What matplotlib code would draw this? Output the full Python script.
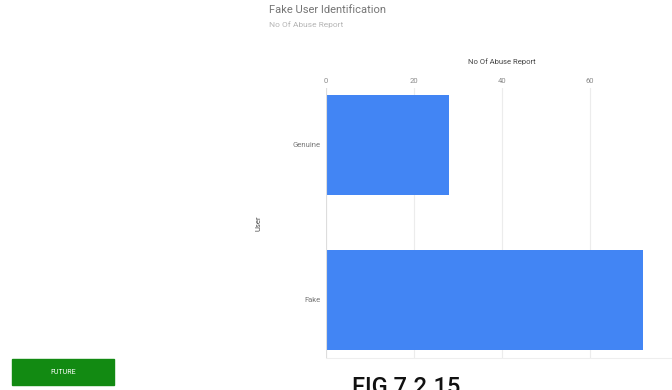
import matplotlib.pyplot as plt
from matplotlib.patches import Rectangle

# chart data
users = ["Genuine", "Fake"]
abuse_reports = [28, 72]
x_ticks = [0, 20, 40, 60, 80]

plt.rcParams['font.family'] = ['Roboto', 'DejaVu Sans']

fig = plt.figure(figsize=(6.72, 3.90), dpi=100)
ax = fig.add_axes([0.485, 0.082, 0.524, 0.692])

ypos = list(range(len(users)))
ax.barh(ypos, abuse_reports, height=0.645, color="#4285F4", zorder=3)

ax.set_xlim(0, 80)
ax.set_ylim(1.377, -0.365)
ax.set_xticks(x_ticks)
ax.set_xticklabels([str(t) for t in x_ticks])
ax.set_yticks(ypos)
ax.set_yticklabels(users)
ax.xaxis.tick_top()
ax.xaxis.set_label_position("top")
ax.tick_params(axis="x", length=0, pad=3, labelsize=5.5, colors="#8a8a8a")
ax.tick_params(axis="y", length=0, pad=4, labelsize=5.5, colors="#777777")
ax.grid(axis="x", color="#ececec", linewidth=0.8, zorder=0)
ax.axvline(0, color="#dddddd", linewidth=0.8, zorder=4)
for s in ax.spines.values():
    s.set_visible(False)
ax.spines["bottom"].set_visible(True)
ax.spines["bottom"].set_color("#eeeeee")

ax.set_xlabel("No Of Abuse Report", fontsize=5.5, color="#444444", labelpad=10)
ax.set_ylabel("User", fontsize=5.5, color="#444444", labelpad=22)

# titles
fig.text(269 / 672, 1 - 10 / 390, "Fake User Identification", fontsize=8,
         color="#757575", ha="left", va="center")
fig.text(269 / 672, 1 - 25 / 390, "No Of Abuse Report", fontsize=6,
         color="#b5b5b5", ha="left", va="center")

# green button
fig.patches.append(Rectangle((12 / 672, 1 - 385 / 390), 102 / 672, 26 / 390,
                             transform=fig.transFigure, color="#128a12"))
fig.text(63 / 672, 1 - 372 / 390, "FUTURE", fontsize=5, color="white",
         ha="center", va="center")

# caption, partly cut off at the bottom edge
fig.text(352 / 672, 1 - 394 / 390, "FIG 7.2.15", fontsize=17, fontweight="medium",
         color="#111111", ha="left", va="baseline")

fig.savefig("out.png", dpi=100)
